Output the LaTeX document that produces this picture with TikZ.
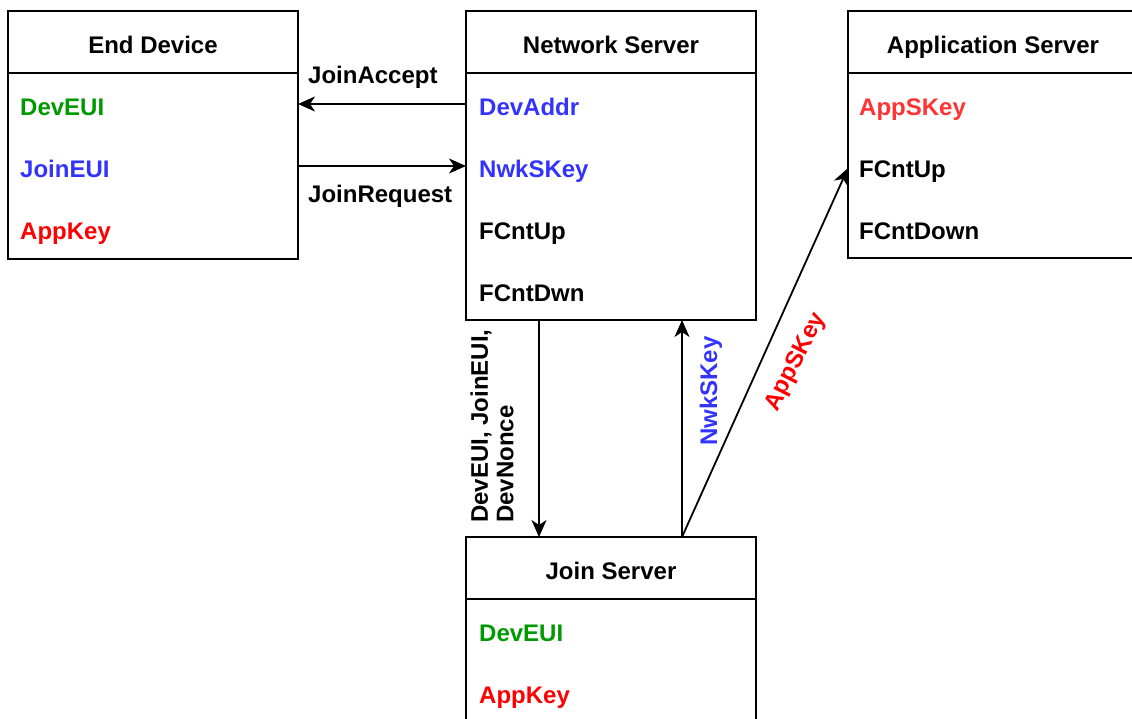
\documentclass[tikz,border=0pt]{standalone}
\usepackage{fontspec}
\setmainfont{Liberation Sans}
\usetikzlibrary{arrows.meta,calc}
\definecolor{keygreen}{HTML}{009900}
\definecolor{keyblue}{HTML}{3333FF}
\definecolor{keyred}{HTML}{FF0000}
\definecolor{skeyred}{HTML}{FF3333}
\tikzset{
  hdr/.style={draw, line width=2pt, minimum width=290pt, minimum height=62pt,
    inner sep=0pt, outer sep=0pt, anchor=north west, text height=22pt, text depth=0pt},
  body/.style={draw, line width=2pt, minimum width=290pt, inner sep=0pt, outer sep=0pt,
    anchor=north west},
  item/.style={anchor=base west, inner sep=0pt},
  lbl/.style={inner sep=0pt},
  arr/.style={line width=1.8pt, -{Stealth[length=17pt,width=15pt,inset=5pt]}}
}
\begin{document}
\begin{tikzpicture}[x=1pt,y=-1pt,font=\fontsize{24}{25.5}\selectfont\bfseries]
\useasboundingbox (0,0) rectangle (1132,718);
\clip (0,0) rectangle (1132,718);

% End Device
\node[hdr] (ed) at (8,11) {End Device};
\node[body, minimum height=186pt] (edb) at (ed.south west) {};
\node[item, text=keygreen] (ed1) at (20,115) {DevEUI};
\node[item, text=keyblue]  (ed2) at (20,177) {JoinEUI};
\node[item, text=keyred]   (ed3) at (20,239) {AppKey};

% Network Server
\node[hdr] (ns) at (466,11) {Network Server};
\node[body, minimum height=247pt] (nsb) at (ns.south west) {};
\node[item, text=keyblue] (ns1) at (479,115) {DevAddr};
\node[item, text=keyblue] (ns2) at (479,177) {NwkSKey};
\node[item] (ns3) at (479,239) {FCntUp};
\node[item] (ns4) at (479,301) {FCntDwn};

% Application Server
\node[hdr] (as) at (848,11) {Application Server};
\node[body, minimum height=185pt] (asb) at (as.south west) {};
\node[item, text=skeyred] (as1) at (859,115) {AppSKey};
\node[item] (as2) at (859,177) {FCntUp};
\node[item] (as3) at (859,239) {FCntDown};

% Join Server
\node[hdr] (js) at (466,537) {Join Server};
\node[body, minimum height=186pt] (jsb) at (js.south west) {};
\node[item, text=keygreen] (js1) at (479,641) {DevEUI};
\node[item, text=keyred]   (js2) at (479,703) {AppKey};

% Join messages between device and network server
\draw[arr] ($(nsb.north west)+(0,31)$) -- ($(edb.north east)+(0,31)$);
\draw[arr] ($(edb.north east)+(0,93)$) -- ($(nsb.north west)+(0,93)$);
\node[item] (lacc) at (308,83) {JoinAccept};
\node[item] (lreq) at (308,202) {JoinRequest};

% Network server <-> join server, join server -> application server
\draw[arr] ($(nsb.south west)+(73,0)$) -- ($(js.north west)+(73,0)$);
\draw[arr] ($(js.north west)+(216,0)$) -- ($(nsb.south west)+(216,0)$);
\draw[arr] ($(js.north west)+(216,0)$) -- ($(asb.north west)+(0,95)$);
\node[lbl, rotate=90, align=left] (ldown) at (492,426) {DevEUI, JoinEUI,\\DevNonce};
\node[lbl, rotate=90, text=keyblue] (lnwk) at (711,391) {NwkSKey};
\node[lbl, rotate=63, text=keyred] (lapp) at (796,362) {AppSKey};
\end{tikzpicture}
\end{document}
